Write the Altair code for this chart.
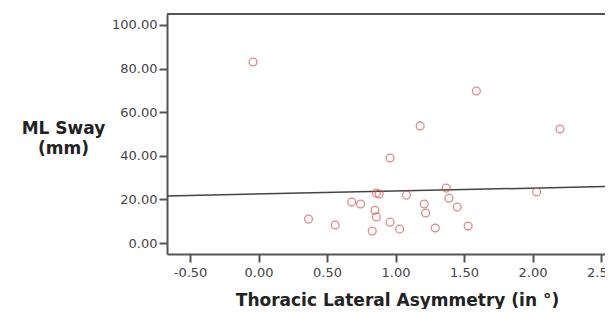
import altair as alt
import pandas as pd

# Scatter data
asym = [-0.04, 1.59, 2.20, 1.18, 0.96, 0.365, 0.56, 0.68, 0.745, 0.86, 0.88,
        0.85, 0.86, 0.83, 0.96, 1.03, 1.08, 1.21, 1.22, 1.29, 1.37, 1.39,
        1.45, 1.53, 2.03]
sway = [83.0, 69.7, 52.3, 53.7, 39.0, 11.0, 8.3, 18.8, 17.9, 22.9, 22.5,
        15.0, 12.0, 5.5, 9.6, 6.4, 22.0, 17.9, 13.8, 6.9, 25.2, 20.6,
        16.5, 7.8, 23.4]

# Fit line endpoints
fit_x = [-0.668, 2.529]
fit_y = [21.6, 25.9]

x_ticks = [-0.5, 0.0, 0.5, 1.0, 1.5, 2.0, 2.5]
y_ticks = [0, 20, 40, 60, 80, 100]

pts = pd.DataFrame({"x": asym, "y": sway})
fit = pd.DataFrame({"x": fit_x, "y": fit_y})

FONT = "DejaVu Sans"
W, H = 438, 240
xscale = alt.Scale(domain=[-0.668, 2.529], nice=False, zero=False)
yscale = alt.Scale(domain=[-5, 105], nice=False, zero=False)

xaxis = alt.Axis(
    values=x_ticks, labelExpr="replace(format(datum.value, '.2f'), '\u2212', '-')",
    grid=False, domainColor="#555", domainWidth=2, tickColor="#555", tickWidth=2,
    tickSize=8, labelFont=FONT, labelFontSize=13, labelColor="#444", labelPadding=4,
    labelOverlap=False, labelBound=False,
    title="Thoracic Lateral Asymmetry (in \u00b0)", titleFont=FONT, titleFontSize=17,
    titleFontWeight="bold", titleColor="#222", titleX=230, titleY=51,
    titleAnchor="start", titleAlign="center", titleBaseline="alphabetic",
)
yaxis = alt.Axis(
    values=y_ticks, format=".2f", grid=False, domainColor="#555", domainWidth=2,
    tickColor="#555", tickWidth=2, tickSize=8, labelFont=FONT, labelFontSize=13,
    labelColor="#444", labelPadding=2,
    title=["ML Sway", "(mm)"], titleFont=FONT, titleFontSize=17, titleFontWeight="bold",
    titleColor="#222", titleAngle=0, titleX=-104, titleY=119, titleAlign="center",
    titleBaseline="alphabetic", titleLineHeight=20,
)

points = alt.Chart(pts).mark_point(
    shape="circle", filled=False, size=62, strokeWidth=1.3, color="#d35a5a"
).encode(
    x=alt.X("x:Q", scale=xscale, axis=xaxis),
    y=alt.Y("y:Q", scale=yscale, axis=yaxis),
)

line = alt.Chart(fit).mark_line(color="#444", strokeWidth=1.5).encode(
    x=alt.X("x:Q", scale=xscale),
    y=alt.Y("y:Q", scale=yscale),
)

top = alt.Chart(fit).mark_rule(color="#555", strokeWidth=2).encode(
    x=alt.value(0), x2=alt.value(W), y=alt.value(0)
)

chart = alt.layer(line, points, top).properties(
    width=W, height=H,
    autosize=alt.AutoSizeParams(type="none"),
    padding={"left": 159, "top": 6, "right": 0, "bottom": 55},
).configure_view(stroke=None).configure(background="white")

chart.save("out.html", embed_options={"renderer": "svg", "actions": False})
